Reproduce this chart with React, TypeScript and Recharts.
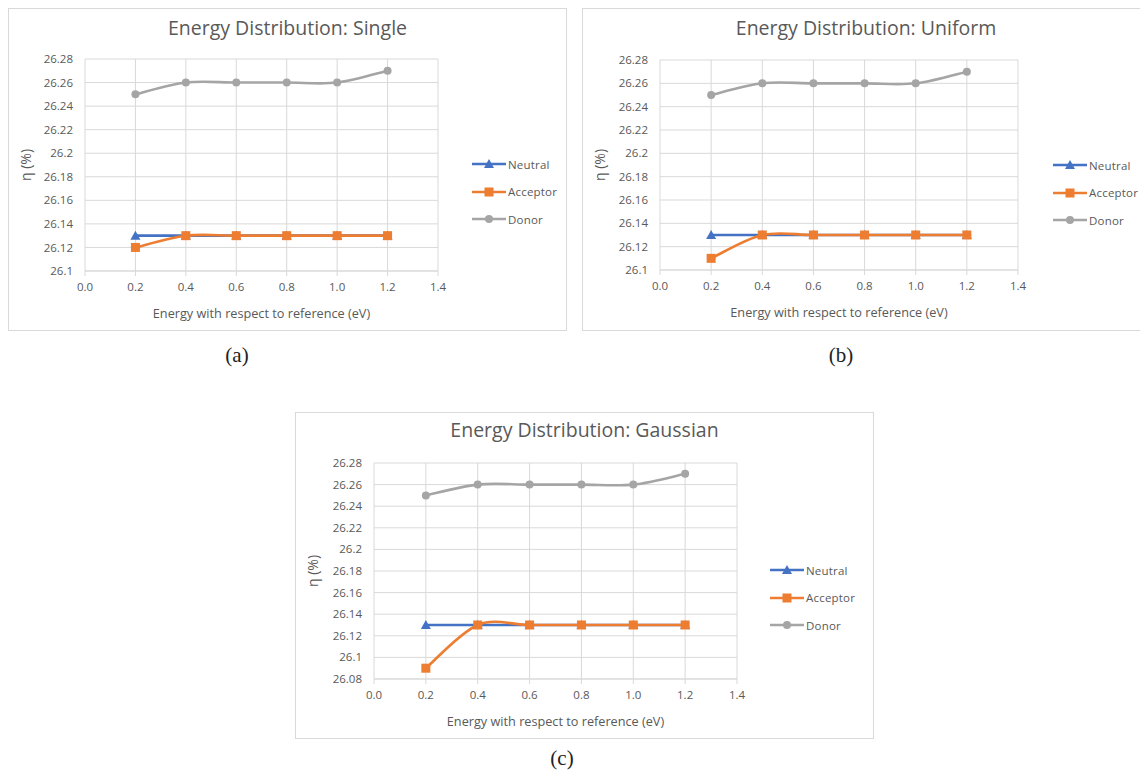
import { CartesianGrid, Line, LineChart, XAxis, YAxis } from "recharts";

const energy = [0.2, 0.4, 0.6, 0.8, 1.0, 1.2];

const neutralSingle = [26.13, 26.13, 26.13, 26.13, 26.13, 26.13];
const acceptorSingle = [26.12, 26.13, 26.13, 26.13, 26.13, 26.13];
const donorSingle = [26.25, 26.26, 26.26, 26.26, 26.26, 26.27];

const neutralUniform = [26.13, 26.13, 26.13, 26.13, 26.13, 26.13];
const acceptorUniform = [26.11, 26.13, 26.13, 26.13, 26.13, 26.13];
const donorUniform = [26.25, 26.26, 26.26, 26.26, 26.26, 26.27];

const neutralGaussian = [26.13, 26.13, 26.13, 26.13, 26.13, 26.13];
const acceptorGaussian = [26.09, 26.13, 26.13, 26.13, 26.13, 26.13];
const donorGaussian = [26.25, 26.26, 26.26, 26.26, 26.26, 26.27];

const xTicks = [0, 0.2, 0.4, 0.6, 0.8, 1.0, 1.2, 1.4];
const yTicksAB = [26.1, 26.12, 26.14, 26.16, 26.18, 26.2, 26.22, 26.24, 26.26, 26.28];
const yTicksC = [26.08, 26.1, 26.12, 26.14, 26.16, 26.18, 26.2, 26.22, 26.24, 26.26, 26.28];

const seriesNames = ["Neutral", "Acceptor", "Donor"];
const seriesKeys = ["neutral", "acceptor", "donor"];
const seriesColors = ["#4472C4", "#ED7D31", "#A5A5A5"];

const FONT = '"Open Sans", sans-serif';
const TXT = "#595959";
const GRID = "#d9d9d9";

const rows = (n: number[], a: number[], d: number[]) =>
  energy.map((x, i) => ({ x, neutral: n[i], acceptor: a[i], donor: d[i] }));

// Excel-like smoothed line (cardinal spline through the points)
function excelSmooth(ctx: any) {
  let pts: number[][] = [];
  return {
    areaStart() {},
    areaEnd() {},
    lineStart() { pts = []; },
    point(x: number, y: number) { pts.push([+x, +y]); },
    lineEnd() {
      const n = pts.length;
      if (!n) return;
      ctx.moveTo(pts[0][0], pts[0][1]);
      for (let i = 0; i < n - 1; i++) {
        const p0 = pts[Math.max(i - 1, 0)], p1 = pts[i], p2 = pts[i + 1], p3 = pts[Math.min(i + 2, n - 1)];
        ctx.bezierCurveTo(
          p1[0] + (p2[0] - p0[0]) / 6, p1[1] + (p2[1] - p0[1]) / 6,
          p2[0] - (p3[0] - p1[0]) / 6, p2[1] - (p3[1] - p1[1]) / 6,
          p2[0], p2[1],
        );
      }
    },
  };
}

function Marker({ kind, cx, cy, color }: { kind: number; cx: number; cy: number; color: string }) {
  if (kind === 0)
    return <polygon points={`${cx},${cy - 5} ${cx + 5},${cy + 4} ${cx - 5},${cy + 4}`} fill={color} />;
  if (kind === 1) return <rect x={cx - 4.5} y={cy - 4.5} width={9} height={9} fill={color} />;
  return <circle cx={cx} cy={cy} r={4} fill={color} />;
}

function YLabel(props: any) {
  const vb = props.viewBox || { x: 0, y: 0, height: 0 };
  const cx = vb.x + 16, cy = vb.y + vb.height / 2;
  return (
    <text x={cx} y={cy} transform={`rotate(-90 ${cx} ${cy})`} textAnchor="middle" dominantBaseline="central"
      fill={TXT} fontSize={14} fontFamily={FONT}>η (%)</text>
  );
}

function XLabel(props: any) {
  const vb = props.viewBox || { x: 0, y: 0, width: 0 };
  return (
    <text x={vb.x + vb.width / 2} y={vb.y + 42} textAnchor="middle" dominantBaseline="central"
      fill={TXT} fontSize={12.7} fontFamily={FONT}>Energy with respect to reference (eV)</text>
  );
}

function Panel({
  title, left, top, width, height, data, yTicks, plot, legend, titleY,
}: {
  title: string; left: number; top: number; width: number; height: number;
  data: { x: number; neutral: number; acceptor: number; donor: number }[];
  yTicks: number[]; plot: { l: number; t: number; r: number; b: number };
  legend: { x: number; y: number }; titleY: number;
}) {
  const cw = width - 2, ch = height - 2;
  return (
    <div style={{ position: "absolute", left, top, width: cw, height: ch, border: `1px solid ${GRID}`, background: "#fff" }}>
      <div style={{ position: "absolute", left: 0, top: titleY - 13, width: "100%", textAlign: "center", lineHeight: "26px",
        fontFamily: FONT, fontSize: 19.5, color: TXT }}>{title}</div>
      <LineChart width={cw} height={ch} data={data}
        margin={{ top: plot.t, right: cw - plot.r, bottom: ch - plot.b - 50, left: 0 }}>
        <CartesianGrid stroke={GRID} strokeWidth={1} />
        <XAxis dataKey="x" type="number" domain={[0, 1.4]} ticks={xTicks} height={50}
          tickFormatter={(v: number) => v.toFixed(1)} interval={0}
          tick={{ fill: TXT, fontSize: 11.5, fontFamily: FONT }} tickSize={5} tickMargin={7}
          tickLine={{ stroke: GRID }} axisLine={{ stroke: GRID }} label={<XLabel />} />
        <YAxis type="number" domain={[yTicks[0], yTicks[yTicks.length - 1]]} ticks={yTicks} width={plot.l}
          tickFormatter={(v: number) => String(+v.toFixed(2))} interval={0}
          tick={{ fill: TXT, fontSize: 11.5, fontFamily: FONT }} tickLine={false} tickSize={0} tickMargin={12}
          axisLine={false} label={<YLabel />} />
        {seriesKeys.map((k, i) => (
          <Line key={k} dataKey={k} type={excelSmooth as any} stroke={seriesColors[i]} strokeWidth={2.6}
            isAnimationActive={false}
            dot={(p: any) => <Marker key={`${k}-${p.index}`} kind={i} cx={p.cx} cy={p.cy} color={seriesColors[i]} />}
            activeDot={false} />
        ))}
      </LineChart>
      {seriesNames.map((name, i) => (
        <div key={name} style={{ position: "absolute", left: legend.x, top: legend.y + i * 27.5 - 8, height: 16,
          display: "flex", alignItems: "center", whiteSpace: "nowrap" }}>
          <svg width={34} height={12} style={{ display: "block" }}>
            <line x1={0} y1={6} x2={34} y2={6} stroke={seriesColors[i]} strokeWidth={2.6} />
            <Marker kind={i} cx={17} cy={6} color={seriesColors[i]} />
          </svg>
          <span style={{ marginLeft: 2, fontFamily: FONT, fontSize: 11.5, color: TXT, letterSpacing: 0.2 }}>{name}</span>
        </div>
      ))}
    </div>
  );
}

const caption = { position: "absolute" as const, fontFamily: '"Liberation Serif", serif', fontSize: 21, color: "#222",
  width: 60, textAlign: "center" as const, lineHeight: "26px" };

export default function App() {
  return (
    <div style={{ position: "absolute", left: 0, top: 0, width: 1140, height: 778, overflow: "hidden", background: "#fff" }}>
      <Panel title="Energy Distribution: Single" left={8} top={8} width={559} height={323}
        data={rows(neutralSingle, acceptorSingle, donorSingle)} yTicks={yTicksAB}
        plot={{ l: 76, t: 50, r: 429, b: 262 }} legend={{ x: 463, y: 155 }} titleY={19} />
      <Panel title="Energy Distribution: Uniform" left={582} top={8} width={568} height={323}
        data={rows(neutralUniform, acceptorUniform, donorUniform)} yTicks={yTicksAB}
        plot={{ l: 77, t: 51, r: 435, b: 261 }} legend={{ x: 470, y: 156 }} titleY={19} />
      <Panel title="Energy Distribution: Gaussian" left={295} top={412} width={579} height={327}
        data={rows(neutralGaussian, acceptorGaussian, donorGaussian)} yTicks={yTicksC}
        plot={{ l: 78, t: 50, r: 441, b: 266 }} legend={{ x: 474, y: 157 }} titleY={17} />
      <div style={{ ...caption, left: 207, top: 342 }}>(a)</div>
      <div style={{ ...caption, left: 811, top: 342 }}>(b)</div>
      <div style={{ ...caption, left: 532, top: 745 }}>(c)</div>
    </div>
  );
}
